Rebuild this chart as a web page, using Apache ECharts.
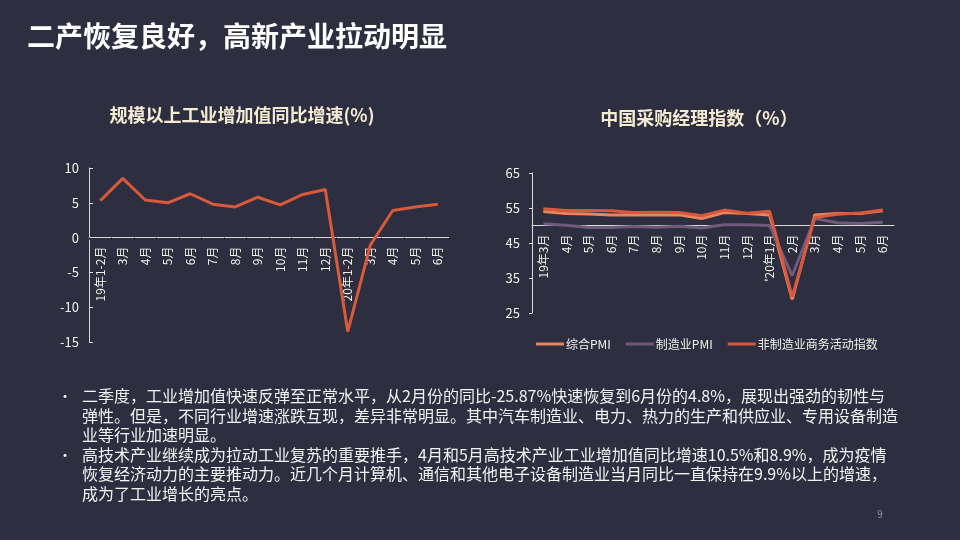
<!DOCTYPE html>
<html>
<head>
<meta charset="utf-8">
<script src="https://cdn.jsdelivr.net/npm/echarts@6/dist/echarts.min.js"></script>
<style>
  html, body { margin: 0; padding: 0; background: #2d2e3f; }
  #wrap { position: relative; width: 960px; height: 540px; overflow: hidden; background: #2d2e3f; }
  #chart { position: absolute; left: 0; top: 0; width: 960px; height: 540px; }
  #notes { position: absolute; left: 56px; top: 386px; width: 880px; color: #f2f2f2;
    font-family: "Noto Sans CJK SC", "Noto Sans", sans-serif; font-size: 16px; line-height: 19.5px; }
  #notes .item { position: relative; padding-left: 26px; white-space: nowrap; }
  #notes .item::before { content: "•"; position: absolute; left: 2px; top: 0; font-size: 14px; }
</style>
</head>
<body>
<div id="wrap">
  <div id="chart"></div>
  <div id="notes"></div>
</div>
<script>
const mainTitle = '二产恢复良好，高新产业拉动明显';
const leftTitle = '规模以上工业增加值同比增速(%)';
const rightTitle = '中国采购经理指数（%）';
const pageNumber = '9';

const ipCategories = ['19年1-2月','3月','4月','5月','6月','7月','8月','9月','10月','11月','12月','20年1-2月','3月','4月','5月','6月'];
const ipValues = [5.3, 8.5, 5.4, 5.0, 6.3, 4.8, 4.4, 5.8, 4.7, 6.2, 6.9, -13.5, -1.1, 3.9, 4.4, 4.8];
const ipTicks = { min: -15, max: 10, interval: 5, baseline: 0 };

const pmiCategories = ['19年3月','4月','5月','6月','7月','8月','9月','10月','11月','12月',"'20年1月",'2月','3月','4月','5月','6月'];
const compositePMI = [54.0, 53.4, 53.3, 53.0, 53.1, 53.0, 53.1, 52.0, 53.7, 53.4, 53.0, 28.9, 53.0, 53.4, 53.4, 54.2];
const manufacturingPMI = [50.5, 50.1, 49.4, 49.4, 49.7, 49.5, 49.8, 49.3, 50.2, 50.2, 50.0, 35.7, 52.0, 50.8, 50.6, 50.9];
const nonManufacturingPMI = [54.8, 54.3, 54.3, 54.2, 53.7, 53.8, 53.7, 52.8, 54.4, 53.5, 54.1, 29.6, 52.3, 53.2, 53.6, 54.4];
const pmiSeriesNames = ['综合PMI', '制造业PMI', '非制造业商务活动指数'];
const pmiTicks = { min: 25, max: 65, interval: 10, baseline: 50 };

const bullets = [
  ['二季度，工业增加值快速反弹至正常水平，从2月份的同比-25.87%快速恢复到6月份的4.8%，展现出强劲的韧性与',
   '弹性。但是，不同行业增速涨跌互现，差异非常明显。其中汽车制造业、电力、热力的生产和供应业、专用设备制造',
   '业等行业加速明显。'],
  ['高技术产业继续成为拉动工业复苏的重要推手，4月和5月高技术产业工业增加值同比增速10.5%和8.9%，成为疫情',
   '恢复经济动力的主要推动力。近几个月计算机、通信和其他电子设备制造业当月同比一直保持在9.9%以上的增速，',
   '成为了工业增长的亮点。']
];

const notes = document.getElementById('notes');
bullets.forEach(lines => {
  const d = document.createElement('div');
  d.className = 'item';
  d.innerHTML = lines.map(s => s.replace(/&/g,'&amp;').replace(/</g,'&lt;')).join('<br>');
  notes.appendChild(d);
});

const FONT = '"Noto Sans CJK SC", "Noto Sans", sans-serif';
const axisColor = '#d9d9d9';
const labelColor = '#f3f1ea';
const titleColor = '#f5ead2';

const grid1Height = 174;
const grid2Height = 140;
const baseOffset = (t, h) => -(t.baseline - t.min) / (t.max - t.min) * h;

const chart = echarts.init(document.getElementById('chart'));
chart.setOption({
  backgroundColor: 'transparent',
  textStyle: { fontFamily: FONT },
  animation: false,
  graphic: [
    { type: 'text', left: 27, top: 22, style: { text: mainTitle, fill: '#ffffff', font: 'bold 28px ' + FONT } },
    { type: 'text', x: 242, y: 115, style: { text: leftTitle, fill: titleColor, font: 'bold 18px ' + FONT, textAlign: 'center', textVerticalAlign: 'middle' } },
    { type: 'text', x: 699, y: 118, style: { text: rightTitle, fill: titleColor, font: 'bold 18px ' + FONT, textAlign: 'center', textVerticalAlign: 'middle' } },
    { type: 'text', x: 880, y: 514, style: { text: pageNumber, fill: '#8a9ab0', font: '10px ' + FONT, textAlign: 'center', textVerticalAlign: 'middle' } }
  ],
  legend: {
    left: 531, top: 333,
    icon: 'rect', itemWidth: 28, itemHeight: 3, itemGap: 15,
    textStyle: { color: labelColor, fontSize: 12, fontFamily: FONT, padding: [0, 0, 0, -3] },
    data: pmiSeriesNames
  },
  grid: [
    { left: 89, top: 168, width: 360, height: grid1Height },
    { left: 532, top: 173, width: 362, height: grid2Height }
  ],
  xAxis: [
    {
      type: 'category', gridIndex: 0, data: ipCategories, boundaryGap: true,
      position: 'bottom',
      offset: baseOffset(ipTicks, grid1Height),
      axisLine: { onZero: false, lineStyle: { color: axisColor, width: 1 } },
      axisTick: { show: true, length: 2, lineStyle: { color: '#15161f' } },
      axisLabel: { rotate: 90, color: labelColor, fontSize: 12, margin: 9, interval: 0, fontFamily: FONT }
    },
    {
      type: 'category', gridIndex: 1, data: pmiCategories, boundaryGap: true,
      position: 'bottom',
      offset: baseOffset(pmiTicks, grid2Height),
      axisLine: { onZero: false, lineStyle: { color: axisColor, width: 1 } },
      axisTick: { show: false },
      axisLabel: { rotate: 90, color: labelColor, fontSize: 12, margin: 9, interval: 0, fontFamily: FONT }
    }
  ],
  yAxis: [
    {
      type: 'value', gridIndex: 0, min: ipTicks.min, max: ipTicks.max, interval: ipTicks.interval,
      axisLine: { show: true, lineStyle: { color: axisColor, width: 1 } },
      axisTick: { show: true, inside: true, length: 4, lineStyle: { color: axisColor } },
      splitLine: { show: false },
      axisLabel: { color: labelColor, fontSize: 13, margin: 10, fontFamily: FONT }
    },
    {
      type: 'value', gridIndex: 1, min: pmiTicks.min, max: pmiTicks.max, interval: pmiTicks.interval,
      axisLine: { show: true, lineStyle: { color: axisColor, width: 1 } },
      axisTick: { show: true, inside: false, length: 3, lineStyle: { color: axisColor } },
      splitLine: { show: false },
      axisLabel: { color: labelColor, fontSize: 13, margin: 12, fontFamily: FONT }
    }
  ],
  series: [
    {
      name: '规模以上工业增加值同比增速', type: 'line', xAxisIndex: 0, yAxisIndex: 0,
      data: ipValues, symbol: 'none', lineStyle: { color: '#d9593b', width: 3 }, itemStyle: { color: '#d9593b' }
    },
    {
      name: pmiSeriesNames[0], type: 'line', xAxisIndex: 1, yAxisIndex: 1,
      data: compositePMI, symbol: 'none', lineStyle: { color: '#e8855e', width: 3 }, itemStyle: { color: '#e8855e' }
    },
    {
      name: pmiSeriesNames[1], type: 'line', xAxisIndex: 1, yAxisIndex: 1,
      data: manufacturingPMI, symbol: 'none', lineStyle: { color: '#6f5a7c', width: 3 }, itemStyle: { color: '#6f5a7c' }
    },
    {
      name: pmiSeriesNames[2], type: 'line', xAxisIndex: 1, yAxisIndex: 1,
      data: nonManufacturingPMI, symbol: 'none', lineStyle: { color: '#d9573a', width: 3 }, itemStyle: { color: '#d9573a' }
    }
  ]
});
</script>
</body>
</html>
